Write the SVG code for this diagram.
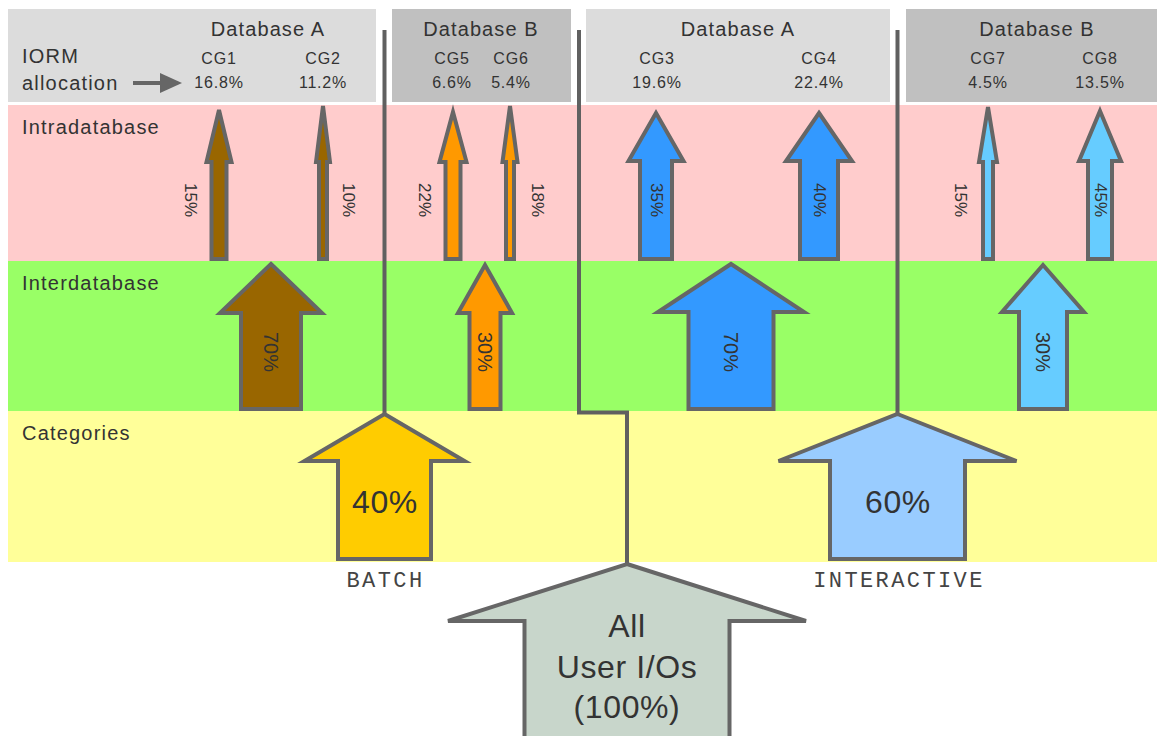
<svg xmlns="http://www.w3.org/2000/svg" width="1157" height="736" viewBox="0 0 1157 736">
<style>
.t{font-family:"Liberation Sans",Arial,sans-serif;fill:#333333}
.hd{font-size:20px;letter-spacing:1.1px;text-anchor:middle}
.cg{font-size:16px;letter-spacing:0.8px;text-anchor:middle}
.row{font-size:20px;letter-spacing:1.2px}
.rl{font-size:17px;text-anchor:middle;dominant-baseline:central}
.il{font-size:20px;text-anchor:middle;dominant-baseline:central}
.big{font-size:32px;text-anchor:middle;letter-spacing:0.6px}
.mono{font-family:"Liberation Mono","Courier New",monospace;font-size:22px;letter-spacing:2.4px;fill:#444444;text-anchor:middle}
.ar{stroke:#666666;stroke-width:4;stroke-linejoin:miter}
.dv{fill:none;stroke:#606060;stroke-width:4}
</style>
<rect width="1157" height="736" fill="#ffffff"/>
<g id="bands">
<rect x="8" y="105" width="1149" height="156" fill="#ffcccc"/>
<rect x="8" y="261" width="1149" height="150" fill="#99ff66"/>
<rect x="8" y="411" width="1149" height="151" fill="#ffff99"/>
<text class="t row" x="22" y="134">Intradatabase</text>
<text class="t row" x="22" y="290">Interdatabase</text>
<text class="t row" x="22" y="440">Categories</text>
</g>
<g id="header-dbA-left">
<rect x="8" y="9" width="368" height="93" fill="#dcdcdc"/>
<text class="t hd" x="268" y="36">Database A</text>
<text class="t cg" x="219" y="64">CG1</text>
<text class="t cg" x="219" y="88">16.8%</text>
<text class="t cg" x="323" y="64">CG2</text>
<text class="t cg" x="323" y="88">11.2%</text>
<text class="t row" x="22" y="63">IORM</text>
<text class="t row" x="22" y="90">allocation</text>
<line x1="133" y1="83" x2="162" y2="83" stroke="#666666" stroke-width="4"/>
<polygon points="160,73 182,83 160,93" fill="#666666"/>
</g>
<g id="header-dbB-left">
<rect x="392" y="9" width="179" height="93" fill="#c0c0c0"/>
<text class="t hd" x="481" y="36">Database B</text>
<text class="t cg" x="452" y="64">CG5</text>
<text class="t cg" x="452" y="88">6.6%</text>
<text class="t cg" x="511" y="64">CG6</text>
<text class="t cg" x="511" y="88">5.4%</text>
</g>
<g id="header-dbA-right">
<rect x="586" y="9" width="304" height="93" fill="#dcdcdc"/>
<text class="t hd" x="738" y="36">Database A</text>
<text class="t cg" x="657" y="64">CG3</text>
<text class="t cg" x="657" y="88">19.6%</text>
<text class="t cg" x="819" y="64">CG4</text>
<text class="t cg" x="819" y="88">22.4%</text>
</g>
<g id="header-dbB-right">
<rect x="906" y="9" width="251" height="93" fill="#c0c0c0"/>
<text class="t hd" x="1037" y="36">Database B</text>
<text class="t cg" x="988" y="64">CG7</text>
<text class="t cg" x="988" y="88">4.5%</text>
<text class="t cg" x="1100" y="64">CG8</text>
<text class="t cg" x="1100" y="88">13.5%</text>
</g>
<g id="connectors">
<path class="dv" d="M384.5 30 V413"/>
<path class="dv" d="M579 30 V412.5 H627 V563"/>
<path class="dv" d="M897.5 30 V413"/>
</g>
<g id="intra-cg1">
<polygon class="ar" fill="#996600" points="219,110 231.5,162 226.5,162 226.5,259 211.5,259 211.5,162 206.5,162"/>
<text class="t rl" transform="translate(190,200) rotate(90)">15%</text>
</g>
<g id="intra-cg2">
<polygon class="ar" fill="#996600" points="323,106 330,162 327,162 327,259 319,259 319,162 316,162"/>
<text class="t rl" transform="translate(348,200) rotate(90)">10%</text>
</g>
<g id="intra-cg5">
<polygon class="ar" fill="#ff9900" points="453,112 466.5,162 460.5,162 460.5,259 445.5,259 445.5,162 439.5,162"/>
<text class="t rl" transform="translate(424,200) rotate(90)">22%</text>
</g>
<g id="intra-cg6">
<polygon class="ar" fill="#ff9900" points="510,106 517.5,162 514,162 514,259 506,259 506,162 502.5,162"/>
<text class="t rl" transform="translate(537,200) rotate(90)">18%</text>
</g>
<g id="intra-cg3">
<polygon class="ar" fill="#3399ff" points="656,113 683.5,161 672,161 672,259 640,259 640,161 628.5,161"/>
<text class="t rl" transform="translate(656,200) rotate(90)">35%</text>
</g>
<g id="intra-cg4">
<polygon class="ar" fill="#3399ff" points="819,113 852,161 838,161 838,259 800,259 800,161 786,161"/>
<text class="t rl" transform="translate(819,200) rotate(90)">40%</text>
</g>
<g id="intra-cg7">
<polygon class="ar" fill="#66ccff" points="988,107 997,162 993,162 993,259 983,259 983,162 979,162"/>
<text class="t rl" transform="translate(960,200) rotate(90)">15%</text>
</g>
<g id="intra-cg8">
<polygon class="ar" fill="#66ccff" points="1100,111 1121,161 1112,161 1112,259 1088,259 1088,161 1079,161"/>
<text class="t rl" transform="translate(1100,200) rotate(90)">45%</text>
</g>
<g id="inter-batch-a">
<polygon class="ar" fill="#996600" points="271,264 322,313 301,313 301,409 241,409 241,313 220,313"/>
<text class="t il" transform="translate(271,352) rotate(90)">70%</text>
</g>
<g id="inter-batch-b">
<polygon class="ar" fill="#ff9900" points="485,265 512,313 500.5,313 500.5,409 469.5,409 469.5,313 458,313"/>
<text class="t il" transform="translate(485,352) rotate(90)">30%</text>
</g>
<g id="inter-inter-a">
<polygon class="ar" fill="#3399ff" points="731,264 804,312 773.5,312 773.5,409 688.5,409 688.5,312 658,312"/>
<text class="t il" transform="translate(731,352) rotate(90)">70%</text>
</g>
<g id="inter-inter-b">
<polygon class="ar" fill="#66ccff" points="1043,265 1084,312 1067,312 1067,409 1019,409 1019,312 1002,312"/>
<text class="t il" transform="translate(1043,352) rotate(90)">30%</text>
</g>
<g id="cat-batch">
<polygon class="ar" fill="#ffcc00" points="384.5,414 464.5,461 431,461 431,559 338,559 338,461 304.5,461"/>
<text class="t big" x="385" y="513">40%</text>
<text class="mono" x="385.5" y="587">BATCH</text>
</g>
<g id="cat-interactive">
<polygon class="ar" fill="#99ccff" points="897.5,414 1016.5,461 965,461 965,559 830,559 830,461 778.5,461"/>
<text class="t big" x="898" y="513">60%</text>
<text class="mono" x="899" y="587">INTERACTIVE</text>
</g>
<g id="all-user-ios">
<polygon class="ar" fill="#c8d6cb" points="627,564 806,621 729.5,621 729.5,742 524.5,742 524.5,621 448,621"/>
<text class="t big" x="627" y="637">All</text>
<text class="t big" x="627" y="678">User I/Os</text>
<text class="t big" x="627" y="718">(100%)</text>
</g>
</svg>
